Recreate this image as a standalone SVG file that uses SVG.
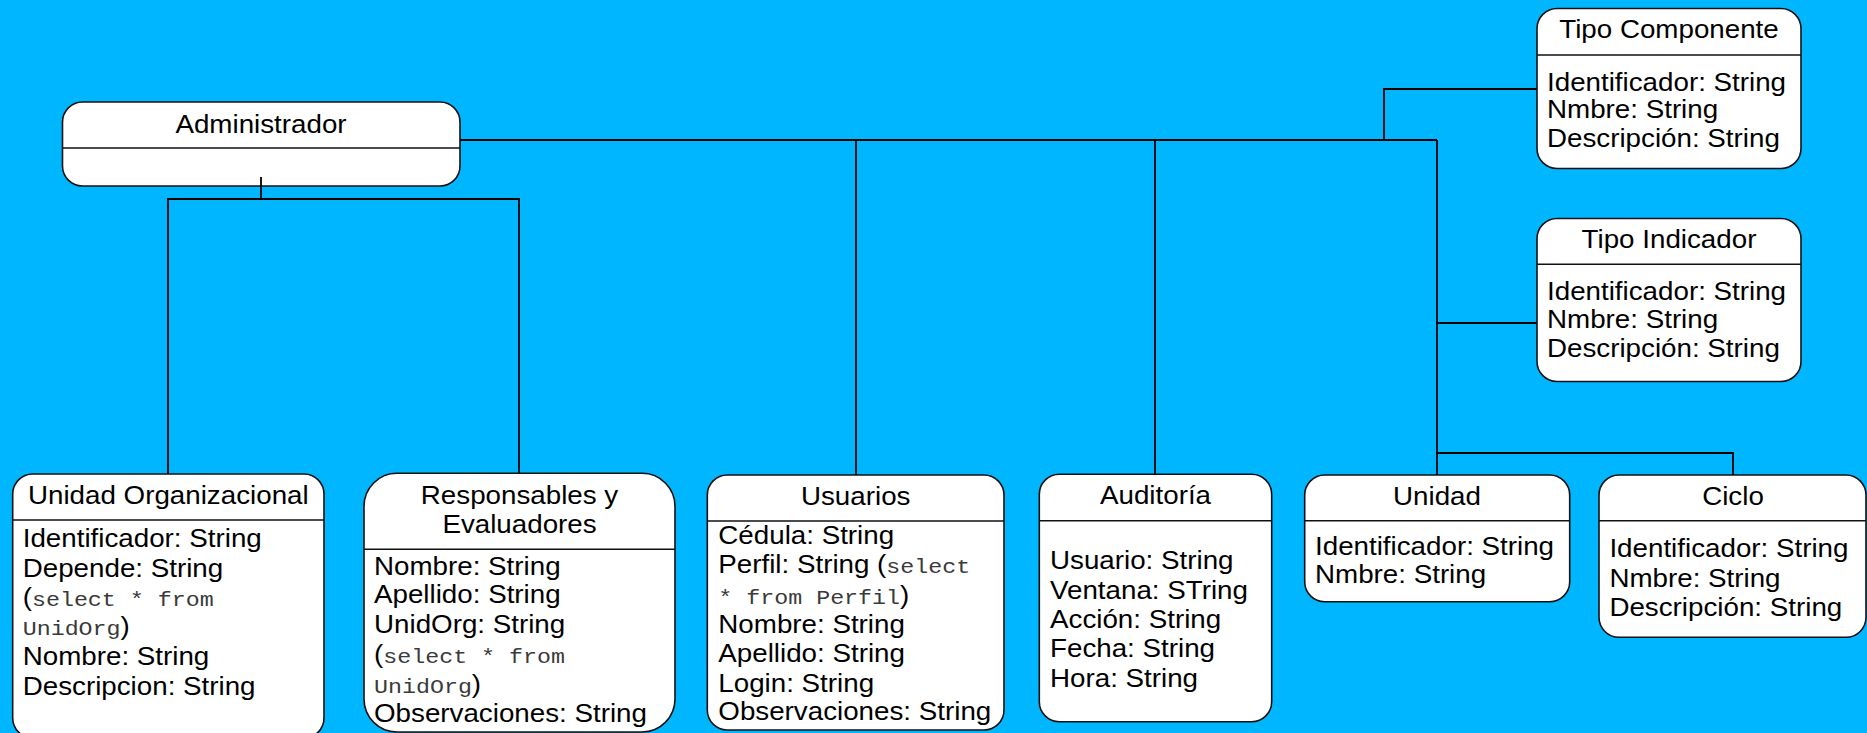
<svg xmlns="http://www.w3.org/2000/svg" width="1867" height="733" viewBox="0 0 1867 733">
<style>
.bg{fill:#00B7FF}
.box{fill:#fff;stroke:#111;stroke-width:1.6}
.div{stroke:#111;stroke-width:1.6}
.con{fill:none;stroke:#000;stroke-width:1.8}
text{font-family:"Liberation Sans",Arial,sans-serif;font-size:25px;fill:#000}
.ttl{text-anchor:middle}
.mono{font-family:"Liberation Mono","Courier New",monospace;font-size:21px;fill:#3a3a3a}
</style>
<rect class="bg" x="0" y="0" width="1867" height="733"/>
<g id="connectors">
<path class="con" d="M460,140 H1437"/>
<path class="con" d="M1437,140 V475"/>
<path class="con" d="M1437,453 H1733 V475"/>
<path class="con" d="M1437,323 H1537"/>
<path class="con" d="M1384,140 V89 H1537"/>
<path class="con" d="M856,140 V475"/>
<path class="con" d="M1155,140 V474"/>
<path class="con" d="M261,177 V199"/>
<path class="con" d="M168,474 V199 H519 V473"/>
</g>
<g id="administrador">
<rect class="box" x="62.5" y="102" width="397.5" height="84" rx="20"/>
<line class="div" x1="62.5" y1="148" x2="460" y2="148"/>
<text class="ttl" transform="translate(261,0) scale(1.11,1)" x="0" y="133">Administrador</text>
<path class="con" d="M261,177 V186"/>
</g>
<g id="tipo-componente">
<rect class="box" x="1537" y="8.5" width="264" height="160" rx="20"/>
<line class="div" x1="1537" y1="55" x2="1801" y2="55"/>
<text class="ttl" transform="translate(1669,0) scale(1.11,1)" x="0" y="38.5">Tipo Componente</text>
<text transform="translate(1547,0) scale(1.11,1)"><tspan x="0" y="90.7">Identificador: String</tspan><tspan x="0" y="118.5">Nmbre: String</tspan><tspan x="0" y="147.5">Descripción: String</tspan></text>
</g>
<g id="tipo-indicador">
<rect class="box" x="1537" y="218.5" width="264" height="163" rx="20"/>
<line class="div" x1="1537" y1="264.3" x2="1801" y2="264.3"/>
<text class="ttl" transform="translate(1669,0) scale(1.11,1)" x="0" y="248.3">Tipo Indicador</text>
<text transform="translate(1547,0) scale(1.11,1)"><tspan x="0" y="300">Identificador: String</tspan><tspan x="0" y="328.3">Nmbre: String</tspan><tspan x="0" y="356.7">Descripción: String</tspan></text>
</g>
<g id="unidad-organizacional">
<rect class="box" x="12.7" y="474" width="311.3" height="264" rx="20"/>
<line class="div" x1="12.7" y1="520" x2="324" y2="520"/>
<text class="ttl" transform="translate(168.3,0) scale(1.11,1)" x="0" y="504">Unidad Organizacional</text>
<text transform="translate(22.7,0) scale(1.11,1)"><tspan x="0" y="547.3">Identificador: String</tspan><tspan x="0" y="576.7">Depende: String</tspan><tspan x="0" y="606">(<tspan class="mono">select * from</tspan></tspan><tspan x="0" y="635"><tspan class="mono">UnidOrg</tspan>)</tspan><tspan x="0" y="665">Nombre: String</tspan><tspan x="0" y="695">Descripcion: String</tspan></text>
</g>
<g id="responsables">
<rect class="box" x="364" y="473.3" width="311" height="258.7" rx="33"/>
<line class="div" x1="364" y1="549.3" x2="675" y2="549.3"/>
<text class="ttl" transform="translate(519.5,0) scale(1.11,1)"><tspan x="0" y="504">Responsables y</tspan><tspan x="0" y="533.3">Evaluadores</tspan></text>
<text transform="translate(374,0) scale(1.11,1)"><tspan x="0" y="575">Nombre: String</tspan><tspan x="0" y="603.3">Apellido: String</tspan><tspan x="0" y="632.7">UnidOrg: String</tspan><tspan x="0" y="663.3">(<tspan class="mono">select * from</tspan></tspan><tspan x="0" y="692.7"><tspan class="mono">UnidOrg</tspan>)</tspan><tspan x="0" y="721.7">Observaciones: String</tspan></text>
</g>
<g id="usuarios">
<rect class="box" x="707.3" y="475" width="296.7" height="255" rx="20"/>
<line class="div" x1="707.3" y1="521" x2="1004" y2="521"/>
<text class="ttl" transform="translate(855.7,0) scale(1.11,1)" x="0" y="505">Usuarios</text>
<text transform="translate(718.3,0) scale(1.11,1)"><tspan x="0" y="544">Cédula: String</tspan><tspan x="0" y="573.3">Perfil: String (<tspan class="mono">select</tspan></tspan><tspan x="0" y="604"><tspan class="mono">* from Perfil</tspan>)</tspan><tspan x="0" y="633.3">Nombre: String</tspan><tspan x="0" y="661.7">Apellido: String</tspan><tspan x="0" y="691.7">Login: String</tspan><tspan x="0" y="720">Observaciones: String</tspan></text>
</g>
<g id="auditoria">
<rect class="box" x="1039.3" y="474.3" width="232.4" height="247.4" rx="20"/>
<line class="div" x1="1039.3" y1="520.7" x2="1271.7" y2="520.7"/>
<text class="ttl" transform="translate(1155.5,0) scale(1.11,1)" x="0" y="504">Auditoría</text>
<text transform="translate(1050,0) scale(1.11,1)"><tspan x="0" y="569.3">Usuario: String</tspan><tspan x="0" y="599.3">Ventana: STring</tspan><tspan x="0" y="628.3">Acción: String</tspan><tspan x="0" y="657.3">Fecha: String</tspan><tspan x="0" y="686.7">Hora: String</tspan></text>
</g>
<g id="unidad">
<rect class="box" x="1304.7" y="475" width="265" height="126.7" rx="20"/>
<line class="div" x1="1304.7" y1="520.7" x2="1569.7" y2="520.7"/>
<text class="ttl" transform="translate(1437,0) scale(1.11,1)" x="0" y="505">Unidad</text>
<text transform="translate(1315,0) scale(1.11,1)"><tspan x="0" y="555">Identificador: String</tspan><tspan x="0" y="583.3">Nmbre: String</tspan></text>
</g>
<g id="ciclo">
<rect class="box" x="1599" y="475" width="267" height="162.3" rx="20"/>
<line class="div" x1="1599" y1="520.7" x2="1866" y2="520.7"/>
<text class="ttl" transform="translate(1733,0) scale(1.11,1)" x="0" y="505">Ciclo</text>
<text transform="translate(1609.4,0) scale(1.11,1)"><tspan x="0" y="556.7">Identificador: String</tspan><tspan x="0" y="586.7">Nmbre: String</tspan><tspan x="0" y="616">Descripción: String</tspan></text>
</g>
</svg>
